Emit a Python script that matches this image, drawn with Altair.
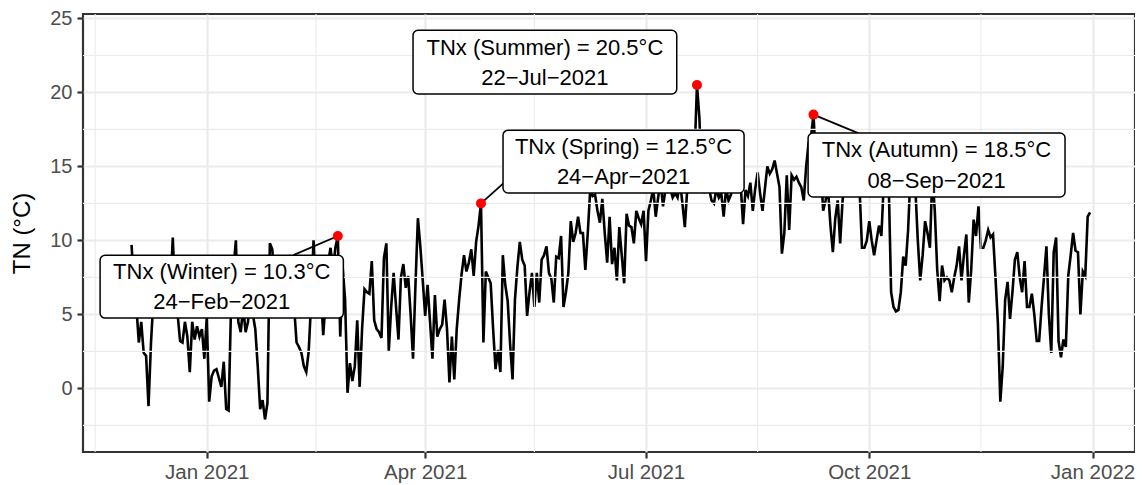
import altair as alt
import pandas as pd

# ---- daily minimum temperature TN (°C), 1 Dec 2020 .. 31 Dec 2021 ----
dec20 = [9.7, 7.0, 5.5, 3.1, 4.5, 2.4, 2.2, -1.2, 3.0, 6.0, 7.0, 8.0, 7.5, 6.5, 7.0, 8.0,
         6.5, 10.2, 6.0, 5.0, 3.2, 3.1, 4.5, 3.5, 1.1, 4.5, 3.3, 4.2, 3.5, 4.0, 2.0]
jan21 = [4.8, -0.9, 0.8, 1.2, 1.3, 0.7, 0.1, 1.8, -1.4, -1.5, 5.5, 8.0, 10.0, 4.5, 3.8, 5.5,
         3.8, 4.5, 6.5, 5.0, 4.0, 1.5, -1.4, -0.8, -2.1, -1.0, 9.8, 9.4, 7.0, 8.0, 6.5]
feb21 = [7.5, 8.5, 7.0, 9.0, 8.5, 5.5, 3.1, 2.8, 2.4, 1.5, 1.1, 2.5, 5.8, 10.0, 8.0, 7.0,
         6.5, 3.6, 6.0, 8.5, 9.5, 8.0, 9.5, 10.3, 3.5, 8.2, 6.0, -0.3]
mar21 = [1.7, 0.5, 1.5, 4.6, 0.1, 4.0, 6.7, 6.5, 6.4, 8.6, 4.6, 4.0, 3.8, 3.4, 8.8, 9.8,
         2.5, 5.5, 7.8, 5.5, 3.3, 7.5, 8.4, 6.8, 7.6, 5.0, 2.0, 7.0, 11.5, 9.6, 7.3]
apr21 = [4.9, 7.0, 4.5, 2.0, 6.3, 3.5, 4.0, 4.3, 6.0, 4.0, 0.4, 3.5, 0.6, 4.0, 6.0, 7.7,
         9.0, 7.9, 8.5, 9.4, 7.6, 9.9, 11.0, 12.5, 3.1, 7.9, 7.5, 7.1, 4.0, 1.3]
may21 = [2.6, 1.1, 9.0, 7.0, 5.9, 3.0, 0.6, 6.0, 8.2, 9.9, 8.7, 8.3, 4.9, 6.5, 7.8, 5.5,
         7.8, 5.8, 8.7, 9.0, 9.6, 7.8, 7.4, 5.8, 8.9, 8.8, 10.3, 5.5, 6.5, 7.8, 11.3]
jun21 = [9.9, 10.5, 11.6, 10.5, 10.5, 8.0, 10.5, 13.4, 13.0, 13.1, 12.0, 11.2, 12.8, 10.5,
         8.5, 11.6, 8.4, 9.5, 7.3, 10.9, 9.0, 7.1, 11.8, 11.0, 10.9, 9.8, 12.0, 11.5, 11.1, 12.0]
jul21 = [8.6, 12.0, 12.7, 13.5, 11.6, 12.9, 14.0, 12.3, 13.4, 14.5, 13.5, 12.9, 13.2, 12.9,
         14.0, 12.5, 10.9, 13.5, 15.0, 16.0, 15.7, 20.5, 18.3, 14.0, 13.2, 14.5, 13.5, 12.7,
         12.5, 13.5, 12.9]
aug21 = [13.2, 11.6, 13.5, 12.7, 13.1, 14.0, 13.5, 14.5, 13.8, 11.1, 13.4, 13.0, 13.9, 12.0,
         13.5, 14.6, 13.2, 12.0, 13.5, 15.0, 14.5, 14.8, 15.4, 14.5, 13.6, 9.1, 10.5, 14.4,
         10.7, 14.4, 14.1]
sep21 = [14.3, 13.9, 13.6, 12.7, 15.0, 16.6, 17.0, 18.5, 15.5, 14.0, 15.0, 12.0, 12.7, 13.5,
         11.0, 9.2, 11.5, 12.7, 9.8, 12.7, 14.0, 15.5, 14.0, 16.0, 14.5, 15.0, 13.5, 9.5, 9.5, 10.0]
oct21 = [11.3, 10.0, 9.0, 10.0, 11.0, 10.3, 14.0, 15.5, 14.0, 6.5, 5.5, 5.2, 5.3, 6.5, 8.9,
         8.3, 10.7, 14.5, 16.0, 13.5, 10.0, 7.3, 9.0, 11.3, 10.5, 9.5, 14.5, 12.0, 8.0, 5.9, 8.3]
nov21 = [7.3, 7.5, 7.3, 6.5, 7.5, 8.3, 9.6, 7.3, 9.0, 10.4, 5.8, 8.0, 11.4, 10.3, 12.3, 9.5,
         9.5, 10.0, 10.7, 10.2, 10.4, 7.5, 4.4, -0.9, 1.5, 6.0, 7.2, 4.7, 6.5, 8.7]
dec21 = [9.2, 7.5, 6.5, 8.6, 5.5, 5.5, 6.4, 5.0, 3.2, 3.2, 5.5, 7.5, 9.6, 5.0, 2.4, 9.2,
         10.2, 3.2, 2.1, 3.3, 2.8, 7.6, 9.0, 10.5, 9.3, 9.2, 5.0, 7.9, 7.6, 11.6, 11.9]

tn = dec20 + jan21 + feb21 + mar21 + apr21 + may21 + jun21 + jul21 + aug21 + sep21 + oct21 + nov21 + dec21
dates = pd.date_range("2020-12-01", periods=len(tn), freq="D")
df = pd.DataFrame({"date": dates.strftime("%Y-%m-%dT00:00:00"), "tn": tn})

# ---- seasonal maxima (TNx) ----
season_names = ["Winter", "Spring", "Summer", "Autumn"]
season_dates = ["2021-02-24", "2021-04-24", "2021-07-22", "2021-09-08"]
season_values = [10.3, 12.5, 20.5, 18.5]
season_date_labels = ["24\u2212Feb\u22122021", "24\u2212Apr\u22122021", "22\u2212Jul\u22122021", "08\u2212Sep\u22122021"]

# ---- tick / grid break positions ----
x_major = [(2021, 1), (2021, 4), (2021, 7), (2021, 10), (2022, 1)]
x_minor = ["2020-11-16", "2021-02-15", "2021-05-16", "2021-08-16", "2021-11-16"]
y_major = [0, 5, 10, 15, 20, 25]
y_minor = [-2.5, 2.5, 7.5, 12.5, 17.5, 22.5]

# ---- label placement (data coordinates, as the repelled labels sit) ----
box_left = ["2020-11-18T01:00:00", "2021-05-03T02:00:00", "2021-03-27T00:00:00", "2021-09-05T19:00:00"]
box_right = ["2021-02-26T07:00:00", "2021-08-10T10:00:00", "2021-07-13T16:00:00", "2021-12-20T16:00:00"]
box_bottom = [4.75, 13.2, 19.9, 12.93]
box_top = [9.0, 17.45, 24.2, 17.25]
text_center = ["2021-01-07T04:00:00", "2021-06-21T18:00:00", "2021-05-20T08:00:00", "2021-10-28T17:00:00"]
line1_y = [7.86, 16.32, 22.97, 16.1]
line2_y = [5.83, 14.26, 20.97, 14.0]
seg_end_x = ["2021-02-05T16:00:00", "2021-05-03T05:00:00", None, "2021-09-26T10:00:00"]
seg_end_y = [9.0, 13.85, None, 17.25]

FONT = "Liberation Sans"

ann = pd.DataFrame({
    "pdate": [d + "T00:00:00" for d in season_dates],
    "pval": season_values,
    "l1": [f"TNx ({n}) = {v}\u00b0C" for n, v in zip(season_names, season_values)],
    "l2": season_date_labels,
    "bx1": box_left, "bx2": box_right, "by1": box_bottom, "by2": box_top,
    "tx": text_center, "t1": line1_y, "t2": line2_y,
})
seg = pd.DataFrame({
    "pdate": [d + "T00:00:00" for d, e in zip(season_dates, seg_end_x) if e],
    "pval": [v for v, e in zip(season_values, seg_end_x) if e],
    "ex": [e for e in seg_end_x if e],
    "ey": [e for e in seg_end_y if e is not None],
})

xs = alt.Scale(domain=[alt.DateTime(year=2020, month=11, date=11),
                       alt.DateTime(year=2022, month=1, date=18, hours=12)])
ys = alt.Scale(domain=[-4.3, 25.3], nice=False, zero=False)

xax = alt.Axis(values=[alt.DateTime(year=y, month=m, date=1) for y, m in x_major],
               format="%b %Y", title=None, grid=True, gridColor="#EBEBEB", gridWidth=2.2,
               domain=False, tickColor="#333333", tickWidth=2.2, tickSize=6,
               labelFont=FONT, labelFontSize=20.5, labelColor="#4D4D4D", labelPadding=4,
               labelFlush=False, labelOverlap=False)
yax = alt.Axis(values=y_major, title="TN (\u00b0C)", grid=True, gridColor="#EBEBEB", gridWidth=2.2,
               domain=False, tickColor="#333333", tickWidth=2.2, tickSize=6,
               labelFont=FONT, labelFontSize=20, labelColor="#4D4D4D", labelPadding=5,
               titleFont=FONT, titleFontSize=24, titleFontWeight="normal", titleColor="black",
               titlePadding=15)


def X(field):
    return alt.X(field, scale=xs, axis=xax)


def Y(field):
    return alt.Y(field, scale=ys, axis=yax)


line = alt.Chart(df).mark_line(color="black", strokeWidth=2.6).encode(
    x=X("date:T"), y=Y("tn:Q"))

minor_v = alt.Chart(pd.DataFrame({"date": [d + "T00:00:00" for d in x_minor]})).mark_rule(
    color="#EBEBEB", strokeWidth=1.1).encode(x=X("date:T"))
minor_h = alt.Chart(pd.DataFrame({"tn": y_minor})).mark_rule(
    color="#EBEBEB", strokeWidth=1.1).encode(y=Y("tn:Q"))

segs = alt.Chart(seg).mark_rule(color="black", strokeWidth=1.8).encode(
    x=X("pdate:T"), x2="ex:T", y=Y("pval:Q"), y2="ey:Q")

pts = alt.Chart(ann).mark_circle(color="#FF0000", size=100, opacity=1).encode(
    x=X("pdate:T"), y=Y("pval:Q"))

boxes = alt.Chart(ann).mark_rect(fill="white", stroke="black", strokeWidth=1.5, cornerRadius=5).encode(
    x=X("bx1:T"), x2="bx2:T", y=Y("by1:Q"), y2="by2:Q")

txt1 = alt.Chart(ann).mark_text(font=FONT, fontSize=22, color="black", align="center", baseline="middle").encode(
    x=X("tx:T"), y=Y("t1:Q"), text="l1:N")
txt2 = alt.Chart(ann).mark_text(font=FONT, fontSize=22, color="black", align="center", baseline="middle").encode(
    x=X("tx:T"), y=Y("t2:Q"), text="l2:N")

chart = alt.layer(line, minor_v, minor_h, segs, pts, boxes, txt1, txt2).properties(
    width=1052, height=438,
    padding={"left": 75, "top": 6, "right": 0, "bottom": 31},
    autosize=alt.AutoSizeParams(type="none"),
    background="white",
).configure_view(stroke="#333333", strokeWidth=2.2, fill="white")

chart.save("out.html", embed_options={"renderer": "svg", "actions": False})
